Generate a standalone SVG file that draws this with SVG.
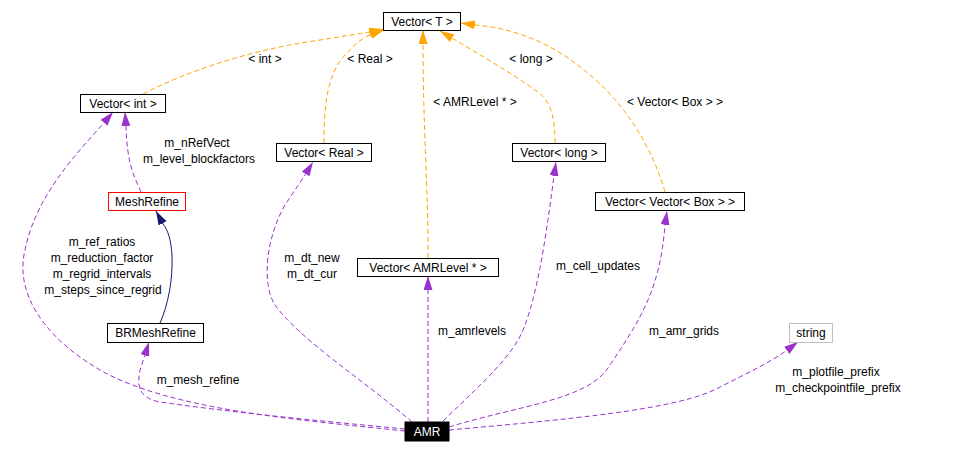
<svg xmlns="http://www.w3.org/2000/svg" width="958" height="453" viewBox="0 0 958 453">
<style>
text{font-family:"Liberation Sans",Arial,sans-serif;font-size:12px;fill:#000;text-anchor:middle}
.node rect{fill:#fff;stroke:#000;stroke-width:1}
.e{fill:none;stroke-width:1;stroke-dasharray:5,3}
.o{stroke:#ffa500}
.p{stroke:#9a32cd}
.n{fill:none;stroke:#191970;stroke-width:1}
</style>
<defs>
<marker id="ao" markerUnits="userSpaceOnUse" markerWidth="15" markerHeight="10" refX="14" refY="4.5" orient="auto"><path d="M0,0 L14,4.5 L0,9 z" fill="#ffa500" stroke="none"/></marker>
<marker id="ap" markerUnits="userSpaceOnUse" markerWidth="15" markerHeight="10" refX="14" refY="4.5" orient="auto"><path d="M0,0 L14,4.5 L0,9 z" fill="#9a32cd" stroke="none"/></marker>
<marker id="an" markerUnits="userSpaceOnUse" markerWidth="15" markerHeight="10" refX="14" refY="4.5" orient="auto"><path d="M0,0 L14,4.5 L0,9 z" fill="#191970" stroke="none"/></marker>
</defs>
<rect width="958" height="453" fill="#fff"/>
<g id="edges">
<path class="e o" d="M143,94 C190,70 250,50 320,40 L370,32 L383,29" marker-end="url(#ao)"/>
<path class="e o" d="M324,143 C324,110 326,75 345,55 C355,44 362,38 372,34 L384,30" marker-end="url(#ao)"/>
<path class="e o" d="M428,258 L428,240 C428,200 423,120 423,44 L423,30" marker-end="url(#ao)"/>
<path class="e o" d="M555,143 C555,120 552,100 535,90 C510,72 480,55 452,38 L440,31" marker-end="url(#ao)"/>
<path class="e o" d="M665,192 C650,140 620,100 590,75 C550,40 510,28 475,25 L461,23" marker-end="url(#ao)"/>
<path class="e p" d="M405,431 C300,420 170,410 100,370 C40,335 15,290 25,250 C35,200 70,160 103,124 L113,112" marker-end="url(#ap)"/>
<path class="e p" d="M141,192 C135,178 127,165 126,127 L125,112" marker-end="url(#ap)"/>
<path class="n" d="M160,323 C168,305 173,280 172,255 C171,240 168,230 163,224 L156,211" marker-end="url(#an)"/>
<path class="e p" d="M405,429 C300,419 230,412 160,402 C138,398 137,385 140,370 L145,355 L149,342" marker-end="url(#ap)"/>
<path class="e p" d="M412,422 C370,385 300,340 275,305 C262,285 265,240 285,205 L305,175 L313,162" marker-end="url(#ap)"/>
<path class="e p" d="M428,422 L428,290 L428,276" marker-end="url(#ap)"/>
<path class="e p" d="M443,421 C480,385 515,355 525,325 C540,285 548,220 554,176 L556,162" marker-end="url(#ap)"/>
<path class="e p" d="M449,427 C520,405 590,400 610,365 C640,320 660,290 665,225 L667,211" marker-end="url(#ap)"/>
<path class="e p" d="M449,430 C560,420 680,410 720,387 C750,372 770,362 786,351 L798,342" marker-end="url(#ap)"/>
</g>
<g id="edge-labels">
<text x="265" y="63">&lt; int &gt;</text>
<text x="370" y="63">&lt; Real &gt;</text>
<text x="531" y="63">&lt; long &gt;</text>
<text x="475" y="106">&lt; AMRLevel * &gt;</text>
<text x="675" y="106">&lt; Vector&lt; Box &gt; &gt;</text>
<text x="197" y="147">m_nRefVect</text>
<text x="199" y="163">m_level_blockfactors</text>
<text x="102" y="246">m_ref_ratios</text>
<text x="102" y="262">m_reduction_factor</text>
<text x="102" y="278">m_regrid_intervals</text>
<text x="103" y="294">m_steps_since_regrid</text>
<text x="198" y="384">m_mesh_refine</text>
<text x="312" y="262">m_dt_new</text>
<text x="312" y="278">m_dt_cur</text>
<text x="472" y="335">m_amrlevels</text>
<text x="598" y="270">m_cell_updates</text>
<text x="684" y="335">m_amr_grids</text>
<text x="836" y="376">m_plotfile_prefix</text>
<text x="838" y="392">m_checkpointfile_prefix</text>
</g>
<g id="VectorT" class="node"><rect x="383.5" y="12.5" width="77" height="18"/><text x="422" y="25.5">Vector&lt; T &gt;</text></g>
<g id="VectorInt" class="node"><rect x="80.5" y="94.5" width="85" height="18"/><text x="123" y="107.5">Vector&lt; int &gt;</text></g>
<g id="MeshRefine" class="node"><rect x="108.5" y="192.5" width="77" height="18" style="stroke:#ff0000"/><text x="147" y="205.5">MeshRefine</text></g>
<g id="VectorReal" class="node"><rect x="276.5" y="143.5" width="95" height="18"/><text x="324" y="156.5">Vector&lt; Real &gt;</text></g>
<g id="BRMeshRefine" class="node"><rect x="107.5" y="323.5" width="96" height="19"/><text x="155.5" y="337">BRMeshRefine</text></g>
<g id="VectorAMRLevel" class="node"><rect x="357.5" y="258.5" width="141" height="18"/><text x="428" y="271.5">Vector&lt; AMRLevel * &gt;</text></g>
<g id="AMR" class="node"><rect x="405" y="422" width="44" height="19" style="fill:#000;stroke:#000"/><text x="427" y="435.5" style="fill:#fff">AMR</text></g>
<g id="VectorLong" class="node"><rect x="512.5" y="143.5" width="93" height="18"/><text x="559" y="156.5">Vector&lt; long &gt;</text></g>
<g id="VectorVectorBox" class="node"><rect x="595.5" y="192.5" width="149" height="18"/><text x="670" y="205.5">Vector&lt; Vector&lt; Box &gt; &gt;</text></g>
<g id="string" class="node"><rect x="789.5" y="323.5" width="43" height="19" style="stroke:#bfbfbf"/><text x="811" y="337">string</text></g>
</svg>
